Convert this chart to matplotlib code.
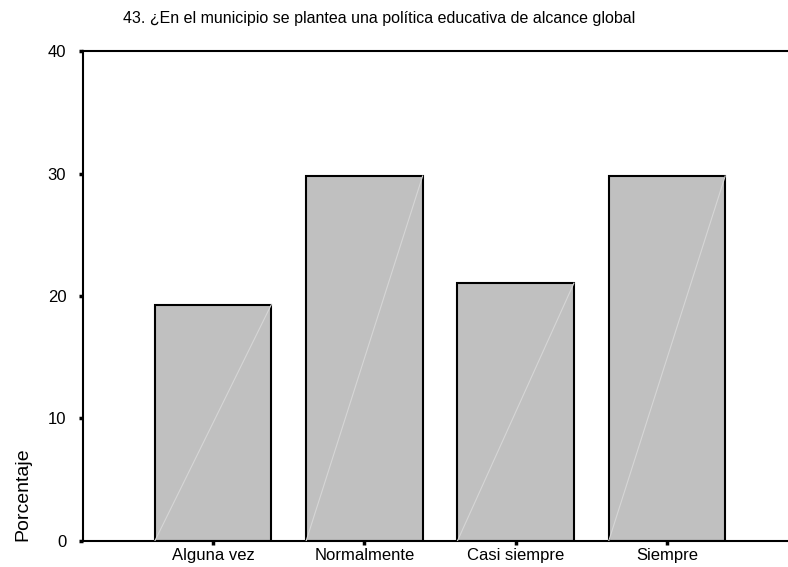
import matplotlib
matplotlib.use("Agg")
import matplotlib.pyplot as plt
import numpy as np

plt.rcParams["font.family"] = ["Liberation Sans", "DejaVu Sans"]

# data (percent of respondents)
categories = ["Alguna vez", "Normalmente", "Casi siempre", "Siempre"]
values = [19.3, 29.8, 21.05, 29.8]
title = "43. ¿En el municipio se plantea una política educativa de alcance global"

fig = plt.figure(figsize=(7.88, 5.67), dpi=100)
ax = fig.add_axes([0.1053, 0.0459, 0.8947, 0.8641])

x = np.arange(len(categories))
width = 0.77
ax.bar(x, values, width=width, color="#c0c0c0", edgecolor="black", linewidth=1.5, zorder=2)

# faint diagonal artefact inside each bar (SPSS export)
for xi, v in zip(x, values):
    ax.plot([xi - width / 2, xi + width / 2], [0, v], color="#d6d6d6", lw=0.8, zorder=3)

ax.set_xlim(-0.86, 3.8)
ax.set_ylim(0, 40)
ax.set_yticks([0, 10, 20, 30, 40])
ax.set_xticks(x)
ax.set_xticklabels(categories, fontsize=12)
ax.tick_params(axis="y", labelsize=12, pad=9)
ax.tick_params(direction="out", length=3, width=2.5, color="black")
ax.tick_params(axis="x", pad=2)

ax.spines["right"].set_visible(False)
for s in ["left", "bottom", "top"]:
    ax.spines[s].set_linewidth(1.5)

ax.set_ylabel("Porcentaje", fontsize=14, loc="bottom", labelpad=12)

fig.text(123 / 788, 1 - 18 / 567, title, fontsize=11.5, ha="left", va="center")

fig.savefig("out.png", dpi=100)
